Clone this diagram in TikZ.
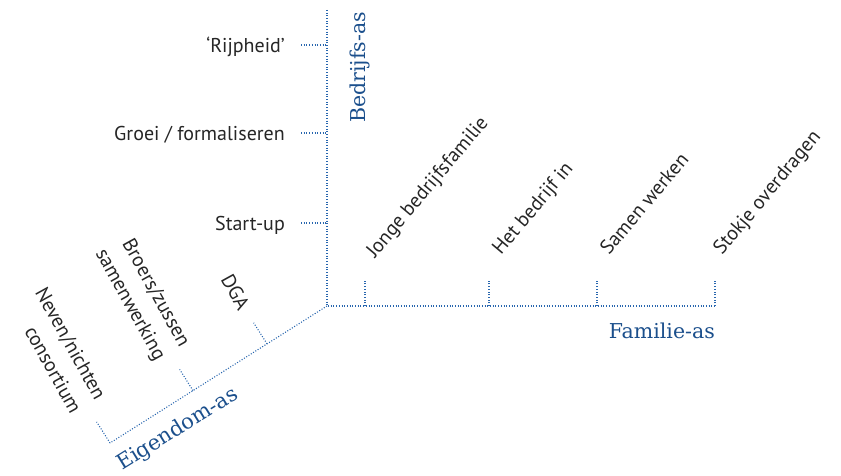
\documentclass[tikz,border=0pt]{standalone}
\usepackage{fontspec}
\setmainfont{PT Sans}
\newfontfamily\axisfont{DejaVu Serif}
\usetikzlibrary{calc}
\definecolor{axisblue}{HTML}{1B4F8C}
\definecolor{dotblue}{HTML}{2866AE}
\definecolor{labelgray}{HTML}{262626}
\begin{document}
\begin{tikzpicture}[x=1pt,y=1pt,
  axisline/.style={draw=dotblue, line width=1.1pt, dash pattern=on 1pt off 1.7pt},
  ticklabel/.style={text=labelgray, font=\fontsize{20}{28}\selectfont, inner sep=0pt},
  axislabel/.style={text=axisblue, font=\axisfont\fontsize{20.5}{24}\selectfont, inner sep=0pt}]
\useasboundingbox (0,0) rectangle (841,475);

% the three axes meeting at the origin
\coordinate (O) at (327,169);
\coordinate (ytop) at (327,465);
\coordinate (xend) at (715,169);
\coordinate (zend) at (110,32);
\draw[axisline] (ytop) -- (O) -- (xend);
\draw[axisline] (O) -- (zend);

% vertical axis: stages of the business
\coordinate (y1) at (327,430); \coordinate (y1l) at (301,430);
\coordinate (y2) at (327,342); \coordinate (y2l) at (301,342);
\coordinate (y3) at (327,252); \coordinate (y3l) at (301,252);
\draw[axisline] (y1l) -- (y1);
\draw[axisline] (y2l) -- (y2);
\draw[axisline] (y3l) -- (y3);
\node[ticklabel, anchor=base east] (rijp) at (285,422.5) {‘Rijpheid’};
\node[ticklabel, anchor=base east] (groei) at (285,334.5) {Groei / formaliseren};
\node[ticklabel, anchor=base east] (start) at (285,244.5) {Start-up};

% horizontal axis: stages of the family
\foreach \n/\x in {1/365, 2/489, 3/597, 4/715}{
  \coordinate (x\n) at (\x,169);
  \coordinate (x\n t) at (\x,195);
  \draw[axisline] (x\n) -- (x\n t);
}
\node[ticklabel, rotate=50, anchor=base west] (jonge) at (375,216) {Jonge bedrijfsfamilie};
\node[ticklabel, rotate=50, anchor=base west] (het) at (501,219) {Het bedrijf in};
\node[ticklabel, rotate=50, anchor=base west] (samen) at (609,219) {Samen werken};
\node[ticklabel, rotate=50, anchor=base west] (stokje) at (722,219) {Stokje overdragen};

% diagonal axis: ownership
\coordinate (z1) at ($(O)!0.2765!(zend)$);
\coordinate (z2) at ($(O)!0.6175!(zend)$);
\coordinate (z3) at (zend);
\foreach \n in {1,2,3}{
  \coordinate (z\n t) at ($(z\n)+(122.27:25)$);
  \draw[axisline] (z\n) -- (z\n t);
}
\node[ticklabel, rotate=-61, anchor=east, align=right] (dga) at ($(z1)+(122.27:42)$) {DGA};
\node[ticklabel, rotate=-61, anchor=east, align=right] (broers) at ($(z2)+(122.27:45)+(3,0)$) {Broers/zussen\\samenwerking};
\node[ticklabel, rotate=-61, anchor=east, align=right] (neven) at ($(z3)+(122.27:45)+(3,0)$) {Neven/nichten\\consortium};

% axis names
\node[axislabel, rotate=90, anchor=base west] (bedrijf) at (365,352) {Bedrijfs-as};
\node[axislabel, anchor=base east] (familie) at (715,137) {Familie-as};
\node[axislabel, rotate=31.8, anchor=base west, font=\axisfont\fontsize{21}{25}\selectfont] (eigendom) at (122,4) {Eigendom-as};
\end{tikzpicture}
\end{document}
